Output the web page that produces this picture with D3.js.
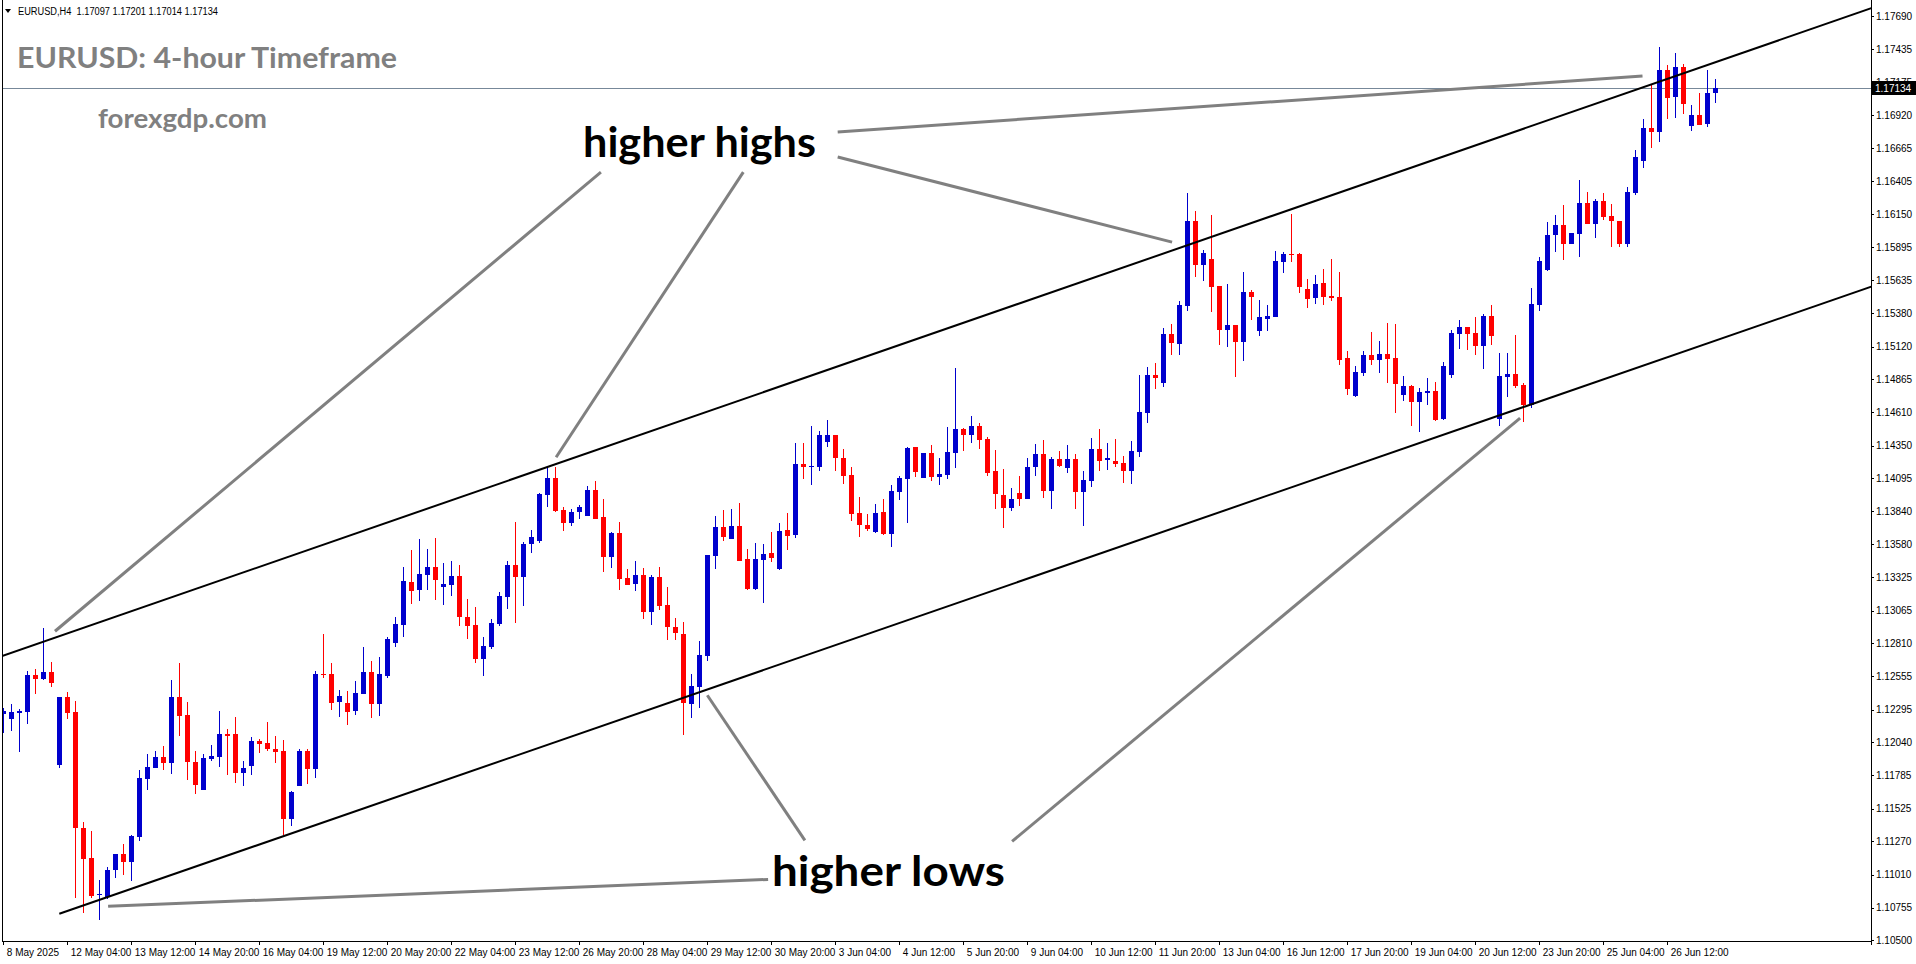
<!DOCTYPE html>
<html><head><meta charset="utf-8">
<script src="https://cdn.jsdelivr.net/npm/d3@7"></script>
<style>html,body{margin:0;padding:0;background:#fff;overflow:hidden}</style>
</head><body>
<svg id="chart" width="1916" height="964" xmlns="http://www.w3.org/2000/svg"></svg>
<script>
// ---------- DATA ----------
const symbolInfo = "EURUSD,H4  1.17097 1.17201 1.17014 1.17134";
const titleText = "EURUSD: 4-hour Timeframe";
const siteText = "forexgdp.com";
const currentPrice = 1.17134;

const opens = [1.12259,1.12220,1.12267,1.12274,1.12562,1.12531,1.12585,1.11861,1.12391,1.12274,
1.11371,1.11138,1.10850,1.10834,1.11044,1.11169,1.11106,1.11301,1.11753,1.11838,
1.11924,1.11877,1.12391,1.12251,1.11884,1.11667,1.11908,1.11924,1.12103,1.12103,
1.11800,1.11853,1.12048,1.12033,1.11986,1.11970,1.11441,1.11698,1.11970,1.11830,
1.12570,1.12570,1.12352,1.12345,1.12282,1.12414,1.12585,1.12337,1.12554,1.12811,
1.12951,1.13286,1.13224,1.13341,1.13403,1.13247,1.13263,1.13333,1.13013,1.12951,
1.12687,1.12780,1.12959,1.13169,1.13419,1.13325,1.13582,1.13606,1.13964,1.14096,
1.13847,1.13746,1.13831,1.13800,1.14002,1.13792,1.13481,1.13668,1.13317,1.13271,
1.13341,1.13053,1.13325,1.13107,1.12936,1.12881,1.12337,1.12469,1.12710,1.13488,
1.13715,1.13621,1.13722,1.13465,1.13232,1.13457,1.13512,1.13387,1.13691,1.13652,
1.14205,1.14182,1.14182,1.14376,1.14431,1.14251,1.14119,1.13824,1.13730,1.13676,
1.13831,1.13660,1.13987,1.14088,1.14337,1.14096,1.14291,1.14104,1.14119,1.14291,
1.14477,1.14431,1.14500,1.14400,1.14150,1.13964,1.13863,1.13979,1.13933,1.14182,
1.14283,1.13995,1.14244,1.14174,1.14244,1.13987,1.14072,1.14322,1.14236,1.14228,
1.14213,1.14150,1.14298,1.14602,1.14898,1.14835,1.15217,1.15139,1.15435,1.16096,
1.15754,1.15801,1.15590,1.15248,1.15287,1.15155,1.15544,1.15240,1.15334,1.15349,
1.15777,1.15840,1.15840,1.15567,1.15497,1.15614,1.15513,1.15505,1.15030,1.14734,
1.14913,1.15053,1.15014,1.15061,1.15030,1.14742,1.14812,1.14687,1.14757,1.14773,
1.14555,1.14898,1.15217,1.15271,1.15225,1.15124,1.15357,1.14555,1.14882,1.14905,
1.14820,1.14664,1.15443,1.15715,1.15988,1.16065,1.15917,1.15995,1.16237,1.16073,
1.16252,1.16135,1.16096,1.15917,1.16315,1.16564,1.16821,1.16790,1.17272,1.17062,
1.17295,1.16836,1.16922,1.16852,1.17097];

const highs = [1.12306,1.12337,1.12298,1.12593,1.12609,1.12928,1.12663,1.12391,1.12430,1.12360,
1.11417,1.11347,1.10966,1.11067,1.11169,1.11247,1.11316,1.11823,1.11947,1.11970,
1.12009,1.12523,1.12656,1.12352,1.11970,1.11947,1.12017,1.12282,1.12142,1.12236,
1.11892,1.12079,1.12064,1.12196,1.12087,1.12056,1.11659,1.11986,1.11986,1.12593,
1.12881,1.12656,1.12445,1.12438,1.12515,1.12780,1.12671,1.12702,1.12858,1.13013,
1.13403,1.13535,1.13621,1.13543,1.13629,1.13434,1.13450,1.13419,1.13154,1.13091,
1.12858,1.12998,1.13208,1.13450,1.13754,1.13598,1.13691,1.13979,1.14182,1.14182,
1.13870,1.13855,1.13886,1.14033,1.14072,1.13933,1.13676,1.13754,1.13387,1.13450,
1.13395,1.13341,1.13403,1.13247,1.13006,1.12974,1.12570,1.12827,1.13496,1.13800,
1.13847,1.13855,1.13902,1.13543,1.13590,1.13582,1.13676,1.13746,1.13824,1.14369,
1.14369,1.14500,1.14462,1.14547,1.14431,1.14322,1.14182,1.13948,1.13816,1.13894,
1.13933,1.14041,1.14111,1.14337,1.14337,1.14291,1.14353,1.14251,1.14493,1.14952,
1.14485,1.14578,1.14524,1.14415,1.14314,1.14166,1.14018,1.14111,1.14251,1.14361,
1.14392,1.14259,1.14306,1.14353,1.14283,1.14150,1.14407,1.14477,1.14369,1.14400,
1.14267,1.14384,1.14898,1.14960,1.14992,1.15264,1.15295,1.15474,1.16315,1.16174,
1.15871,1.16143,1.15590,1.15606,1.15287,1.15700,1.15559,1.15482,1.15443,1.15863,
1.15855,1.16151,1.15848,1.15645,1.15676,1.15723,1.15801,1.15700,1.15084,1.14968,
1.15084,1.15232,1.15162,1.15302,1.15295,1.14890,1.14820,1.14796,1.14874,1.14843,
1.14999,1.15248,1.15326,1.15271,1.15349,1.15373,1.15443,1.15069,1.15069,1.15209,
1.14835,1.15575,1.15817,1.16088,1.16143,1.16221,1.16003,1.16416,1.16322,1.16268,
1.16315,1.16229,1.16096,1.16361,1.16649,1.16891,1.17155,1.17451,1.17311,1.17405,
1.17319,1.17000,1.17093,1.17272,1.17201];

const lows = [1.12111,1.12126,1.11962,1.12181,1.12414,1.12523,1.12469,1.11838,1.12220,1.10827,
1.10710,1.10827,1.10655,1.10819,1.10982,1.11005,1.10958,1.11270,1.11667,1.11838,
1.11823,1.11792,1.12087,1.11745,1.11636,1.11667,1.11892,1.11846,1.11784,1.11722,
1.11698,1.11784,1.11955,1.11970,1.11877,1.11316,1.11386,1.11698,1.11714,1.11760,
1.12539,1.12290,1.12236,1.12173,1.12251,1.12414,1.12228,1.12243,1.12539,1.12780,
1.12858,1.13115,1.13138,1.13224,1.13146,1.13107,1.13177,1.12943,1.12842,1.12656,
1.12554,1.12765,1.12943,1.13076,1.12967,1.13099,1.13512,1.13590,1.13870,1.13831,
1.13683,1.13722,1.13777,1.13800,1.13777,1.13364,1.13395,1.13224,1.13263,1.13216,
1.12998,1.12951,1.13068,1.12835,1.12835,1.12095,1.12228,1.12306,1.12671,1.13387,
1.13606,1.13621,1.13450,1.13224,1.13224,1.13123,1.13442,1.13380,1.13535,1.13629,
1.14088,1.14041,1.14150,1.14337,1.14150,1.14049,1.13761,1.13637,1.13683,1.13668,
1.13652,1.13559,1.13925,1.13746,1.14104,1.14096,1.14072,1.14041,1.14088,1.14174,
1.14306,1.14369,1.14322,1.14111,1.13855,1.13707,1.13839,1.13878,1.13933,1.14111,
1.13940,1.13855,1.14182,1.14135,1.13855,1.13722,1.14026,1.14150,1.14158,1.14182,
1.14057,1.14049,1.14259,1.14524,1.14789,1.14804,1.15053,1.15053,1.15396,1.15660,
1.15629,1.15388,1.15131,1.15116,1.14882,1.15006,1.15326,1.15201,1.15240,1.15349,
1.15692,1.15777,1.15536,1.15419,1.15450,1.15443,1.15474,1.14975,1.14742,1.14726,
1.14890,1.14975,1.14913,1.14835,1.14602,1.14695,1.14500,1.14454,1.14664,1.14539,
1.14547,1.14874,1.15100,1.15092,1.15053,1.14944,1.15131,1.14500,1.14726,1.14796,
1.14532,1.14641,1.15396,1.15707,1.15855,1.15793,1.15917,1.15816,1.16073,1.15964,
1.16104,1.15894,1.15894,1.15894,1.16299,1.16509,1.16665,1.16712,1.16891,1.16899,
1.16930,1.16797,1.16844,1.16828,1.17014];

const closes = [1.12282,1.12274,1.12282,1.12562,1.12531,1.12585,1.12500,1.12391,1.12267,1.11371,
1.11130,1.10842,1.10857,1.11044,1.11169,1.11106,1.11309,1.11760,1.11846,1.11924,
1.11877,1.12391,1.12243,1.11884,1.11706,1.11916,1.11931,1.12103,1.12087,1.11800,
1.11838,1.12048,1.12025,1.11986,1.11962,1.11441,1.11651,1.11970,1.11830,1.12570,
1.12565,1.12345,1.12399,1.12274,1.12422,1.12585,1.12337,1.12570,1.12842,1.12959,
1.13294,1.13216,1.13349,1.13403,1.13302,1.13271,1.13333,1.13013,1.12943,1.12687,
1.12788,1.12967,1.13177,1.13419,1.13325,1.13582,1.13637,1.13972,1.14096,1.13839,
1.13746,1.13831,1.13870,1.14002,1.13777,1.13481,1.13668,1.13310,1.13263,1.13341,
1.13053,1.13325,1.13099,1.12936,1.12889,1.12345,1.12477,1.12718,1.13496,1.13715,
1.13637,1.13722,1.13450,1.13232,1.13465,1.13504,1.13473,1.13683,1.13645,1.14205,
1.14182,1.14189,1.14431,1.14431,1.14251,1.14111,1.13816,1.13730,1.13699,1.13824,
1.13660,1.13995,1.14096,1.14329,1.14143,1.14291,1.14104,1.14127,1.14298,1.14477,
1.14431,1.14500,1.14392,1.14135,1.13972,1.13863,1.13933,1.13933,1.14182,1.14283,
1.13995,1.14244,1.14189,1.14244,1.13987,1.14080,1.14322,1.14228,1.14251,1.14205,
1.14150,1.14306,1.14610,1.14898,1.14874,1.15217,1.15147,1.15443,1.16096,1.15754,
1.15848,1.15583,1.15248,1.15287,1.15155,1.15544,1.15505,1.15349,1.15357,1.15785,
1.15840,1.15832,1.15583,1.15489,1.15606,1.15505,1.15497,1.15014,1.14789,1.14921,
1.15053,1.15014,1.15061,1.15022,1.14827,1.14812,1.14687,1.14765,1.14773,1.14547,
1.14968,1.15225,1.15271,1.15217,1.15124,1.15357,1.15201,1.14890,1.14905,1.14812,
1.14664,1.15450,1.15785,1.15988,1.16065,1.15917,1.16003,1.16237,1.16073,1.16252,
1.16128,1.16096,1.15917,1.16322,1.16595,1.16821,1.16790,1.17272,1.17054,1.17295,
1.17007,1.16922,1.16844,1.17093,1.17134];

const timeLabels = ["8 May 2025","12 May 04:00","13 May 12:00","14 May 20:00","16 May 04:00","19 May 12:00",
"20 May 20:00","22 May 04:00","23 May 12:00","26 May 20:00","28 May 04:00","29 May 12:00","30 May 20:00",
"3 Jun 04:00","4 Jun 12:00","5 Jun 20:00","9 Jun 04:00","10 Jun 12:00","11 Jun 20:00","13 Jun 04:00",
"16 Jun 12:00","17 Jun 20:00","19 Jun 04:00","20 Jun 12:00","23 Jun 20:00","25 Jun 04:00","26 Jun 12:00"];
const barsPerTimeLabel = 8;

const priceTicks = [1.17690,1.17435,1.17175,1.16920,1.16665,1.16405,1.16150,1.15895,1.15635,1.15380,
1.15120,1.14865,1.14610,1.14350,1.14095,1.13840,1.13580,1.13325,1.13065,1.12810,1.12555,1.12295,
1.12040,1.11785,1.11525,1.11270,1.11010,1.10755,1.10500];

// trend channel (bar index, price)
const channelUpper = [[-0.16, 1.12712], [233.5, 1.17753]];
const channelLower = [[7.0, 1.10707], [233.5, 1.15586]];
// annotation pointer lines (bar index, price)
const pointerLines = [
  [[74.7, 1.16478], [6.46, 1.12905]],
  [[92.5, 1.16478], [69.1, 1.14259]],
  [[104.3, 1.16595], [146.1, 1.15933]],
  [[104.3, 1.16790], [204.9, 1.17225]],
  [[95.6, 1.10974], [13.1, 1.10764]],
  [[100.2, 1.11278], [88.0, 1.12407]],
  [[126.1, 1.11270], [189.6, 1.14563]]
];
const annotations = ["higher highs", "higher lows"];

// ---------- CHART ----------
(function () {
const svg = d3.select("#chart");
const W = 1916, H = 964;
const plotL = 2, plotR = 1871, plotT = 0, plotB = 941;

const x = d3.scaleLinear().domain([-0.1625, 233.4625]).range([2, 1871]);
const y = d3.scaleLinear().domain([1.10500, 1.17690]).range([940.3, 16.3]);

svg.append("rect").attr("width", W).attr("height", H).attr("fill", "#fff");

svg.append("defs").append("clipPath").attr("id", "plotClip")
  .append("rect").attr("x", plotL).attr("y", plotT).attr("width", plotR - plotL).attr("height", plotB - plotT);

const plot = svg.append("g").attr("clip-path", "url(#plotClip)");

// current price line
const cpY = Math.round(y(currentPrice));
plot.append("line")
  .attr("x1", plotL).attr("x2", plotR)
  .attr("y1", cpY + 0.5).attr("y2", cpY + 0.5)
  .attr("stroke", "#778899").attr("stroke-width", 1);

// candles
const bars = d3.range(opens.length).map(i => ({i, o: opens[i], h: highs[i], l: lows[i], c: closes[i]}));
const upCol = "#0000CD", dnCol = "#FF0000";
const cg = plot.append("g").attr("shape-rendering", "crispEdges");
cg.selectAll("line.wick").data(bars).join("line").attr("class", "wick")
  .attr("x1", d => Math.round(x(d.i)) + 0.5).attr("x2", d => Math.round(x(d.i)) + 0.5)
  .attr("y1", d => y(d.h)).attr("y2", d => y(d.l))
  .attr("stroke", d => d.c >= d.o ? upCol : dnCol).attr("stroke-width", 1);
cg.selectAll("rect.body").data(bars).join("rect").attr("class", "body")
  .attr("x", d => Math.round(x(d.i)) - 2).attr("width", 5)
  .attr("y", d => Math.round(y(Math.max(d.o, d.c))))
  .attr("height", d => Math.max(1, Math.round(y(Math.min(d.o, d.c))) - Math.round(y(Math.max(d.o, d.c)))))
  .attr("fill", d => d.c >= d.o ? upCol : dnCol);

// channel lines
const lineGen = d3.line().x(d => x(d[0])).y(d => y(d[1]));
[channelUpper, channelLower].forEach(pts => {
  plot.append("path").attr("d", lineGen(pts)).attr("fill", "none")
    .attr("stroke", "#000").attr("stroke-width", 2);
});

// pointer lines
pointerLines.forEach(pts => {
  plot.append("path").attr("d", lineGen(pts)).attr("fill", "none")
    .attr("stroke", "#808080").attr("stroke-width", 3);
});

const bigFont = "Lato, 'Open Sans', sans-serif";
// annotation text
svg.append("text").attr("x", 583).attr("y", 157).text(annotations[0])
  .attr("font-family", bigFont).attr("font-weight", 700).attr("font-size", 42)
  .attr("textLength", 233).attr("lengthAdjust", "spacingAndGlyphs").attr("fill", "#000");
svg.append("text").attr("x", 772).attr("y", 886).text(annotations[1])
  .attr("font-family", bigFont).attr("font-weight", 700).attr("font-size", 42)
  .attr("textLength", 233).attr("lengthAdjust", "spacingAndGlyphs").attr("fill", "#000");

// title + site
svg.append("text").attr("x", 17).attr("y", 68).text(titleText)
  .attr("font-family", bigFont).attr("font-weight", 700).attr("font-size", 29)
  .attr("textLength", 380).attr("lengthAdjust", "spacingAndGlyphs").attr("fill", "#808080");
svg.append("text").attr("x", 98).attr("y", 128).text(siteText)
  .attr("font-family", bigFont).attr("font-weight", 700).attr("font-size", 26)
  .attr("textLength", 169).attr("lengthAdjust", "spacingAndGlyphs").attr("fill", "#808080");

const smallFont = "'Liberation Sans', Arial, sans-serif";
// header
svg.append("path").attr("d", "M5,9 L11,9 L8,13 Z").attr("fill", "#000");
svg.append("text").attr("x", 18).attr("y", 14.5).text(symbolInfo)
  .attr("font-family", smallFont).attr("font-size", 10)
  .attr("textLength", 200).attr("lengthAdjust", "spacingAndGlyphs").attr("fill", "#000")
  .style("white-space", "pre");

// frame
const frame = svg.append("g").attr("shape-rendering", "crispEdges").attr("stroke", "#000").attr("stroke-width", 1);
frame.append("line").attr("x1", 2.5).attr("x2", 2.5).attr("y1", 0).attr("y2", plotB + 0.5);
frame.append("line").attr("x1", 2).attr("x2", plotR + 1).attr("y1", plotB + 0.5).attr("y2", plotB + 0.5);
frame.append("line").attr("x1", plotR + 0.5).attr("x2", plotR + 0.5).attr("y1", 0).attr("y2", 945);

// price axis
const yAxis = d3.axisRight(y).tickValues(priceTicks).tickFormat(d3.format(".5f")).tickSize(3).tickPadding(2);
const ya = svg.append("g").attr("transform", `translate(${plotR},0)`).call(yAxis);
ya.select(".domain").remove();
ya.selectAll("line").attr("stroke", "#000").attr("shape-rendering", "crispEdges");
ya.selectAll("text").attr("font-family", smallFont).attr("font-size", 10).attr("fill", "#000");

// time axis
const xAxis = d3.axisBottom(x)
  .tickValues(timeLabels.map((_, k) => k * barsPerTimeLabel))
  .tickFormat((d, k) => timeLabels[k]).tickSize(4).tickPadding(3);
const xa = svg.append("g").attr("transform", `translate(0,${plotB})`).call(xAxis);
xa.select(".domain").remove();
xa.selectAll("line").attr("stroke", "#000").attr("shape-rendering", "crispEdges");
xa.selectAll("text").attr("text-anchor", "start").attr("x", 3).attr("y", 8)
  .attr("font-family", smallFont).attr("font-size", 10).attr("fill", "#000");

// current price label (covers the neighbouring tick label, as in the terminal)
svg.append("rect").attr("x", plotR + 1).attr("y", cpY - 7).attr("width", W - plotR - 1).attr("height", 14).attr("fill", "#000");
svg.append("text").attr("x", plotR + 4).attr("y", cpY + 4).text(d3.format(".5f")(currentPrice))
  .attr("font-family", smallFont).attr("font-size", 10).attr("fill", "#fff");
})();
</script>
</body></html>
